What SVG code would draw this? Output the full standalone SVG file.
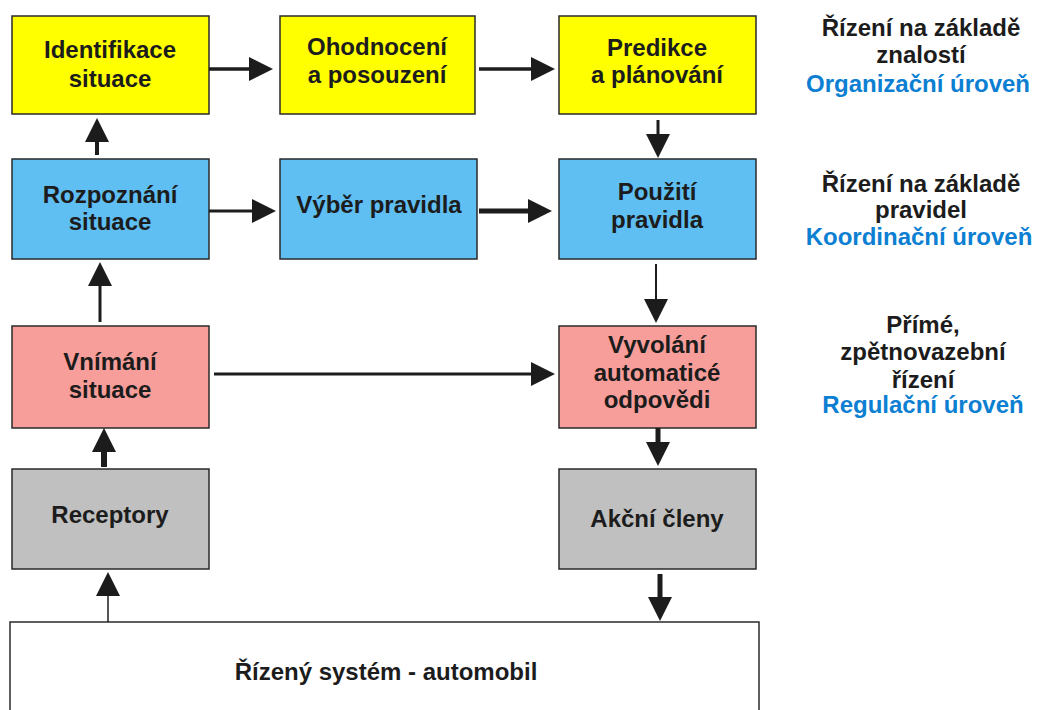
<svg xmlns="http://www.w3.org/2000/svg" width="1042" height="710" viewBox="0 0 1042 710">
<style>
.box{stroke:#2a2a2a;stroke-width:1.5}
.y{fill:#FFFF00}.b{fill:#5FBEF2}.p{fill:#F89E9A}.g{fill:#C0C0C0}.w{fill:#FFFFFF}
text{font-family:"Liberation Sans",Arial,sans-serif;font-weight:bold;font-size:24px;fill:#1c1c1c;text-anchor:middle}
.lvl{fill:#0C7FD2}
.c{stroke:#1c1c1c;fill:none;marker-end:url(#ah)}
</style>
<defs>
<marker id="ah" markerUnits="userSpaceOnUse" markerWidth="24" markerHeight="24" viewBox="0 0 24 24" refX="14" refY="12" orient="auto"><path d="M0,0 L24,12 L0,24 z" fill="#1c1c1c"/></marker>
</defs>
<rect width="1042" height="710" fill="#FFFFFF"/>
<g id="n-identifikace"><rect class="box y" x="12" y="16" width="197" height="98"/><text x="110" y="58">Identifikace</text><text x="110" y="87">situace</text></g>
<g id="n-ohodnoceni"><rect class="box y" x="280" y="16" width="195" height="98"/><text x="377" y="55">Ohodnocení</text><text x="377" y="83">a posouzení</text></g>
<g id="n-predikce"><rect class="box y" x="559" y="16" width="197" height="98"/><text x="657" y="56">Predikce</text><text x="657" y="83">a plánování</text></g>
<g id="n-rozpoznani"><rect class="box b" x="12" y="159" width="197" height="100"/><text x="110" y="203">Rozpoznání</text><text x="110" y="230">situace</text></g>
<g id="n-vyber"><rect class="box b" x="280" y="159" width="197" height="100"/><text x="379" y="213">Výběr pravidla</text></g>
<g id="n-pouziti"><rect class="box b" x="559" y="159" width="197" height="100"/><text x="657" y="200">Použití</text><text x="657" y="228">pravidla</text></g>
<g id="n-vnimani"><rect class="box p" x="12" y="326" width="197" height="102"/><text x="110" y="370">Vnímání</text><text x="110" y="398">situace</text></g>
<g id="n-vyvolani"><rect class="box p" x="559" y="326" width="197" height="102"/><text x="657" y="353">Vyvolání</text><text x="657" y="381">automaticé</text><text x="657" y="408">odpovědi</text></g>
<g id="n-receptory"><rect class="box g" x="12" y="469" width="197" height="100"/><text x="110" y="523">Receptory</text></g>
<g id="n-akcni"><rect class="box g" x="559" y="469" width="197" height="100"/><text x="657" y="527">Akční členy</text></g>
<g id="n-system"><rect class="box w" x="10" y="622" width="749" height="100"/><text x="386" y="680">Řízený systém - automobil</text></g>
<g id="l-organizacni"><text x="921" y="36">Řízení na základě</text><text x="921" y="63">znalostí</text><text class="lvl" x="918" y="92">Organizační úroveň</text></g>
<g id="l-koordinacni"><text x="921" y="192">Řízení na základě</text><text x="921" y="218">pravidel</text><text class="lvl" x="919" y="245">Koordinační úroveň</text></g>
<g id="l-regulacni"><text x="923" y="333">Přímé,</text><text x="923" y="360">zpětnovazební</text><text x="923" y="388">řízení</text><text class="lvl" x="923" y="413">Regulační úroveň</text></g>
<g id="connectors">
<path class="c" stroke-width="3.5" d="M209,69 H263"/>
<path class="c" stroke-width="3.5" d="M479,69 H545"/>
<path class="c" stroke-width="4" d="M97,155 V128"/>
<path class="c" stroke-width="3" d="M209,211 H266"/>
<path class="c" stroke-width="5" d="M479,211 H542"/>
<path class="c" stroke-width="3" d="M658,120 V148"/>
<path class="c" stroke-width="3" d="M100,322 V272"/>
<path class="c" stroke-width="2" d="M656,264 V313"/>
<path class="c" stroke-width="3" d="M214,374 H545"/>
<path class="c" stroke-width="6" d="M104,467 V438"/>
<path class="c" stroke-width="5" d="M658,428 V456"/>
<path class="c" stroke-width="1.5" d="M108,622 V582"/>
<path class="c" stroke-width="5" d="M660,574 V611"/>
</g>
</svg>
